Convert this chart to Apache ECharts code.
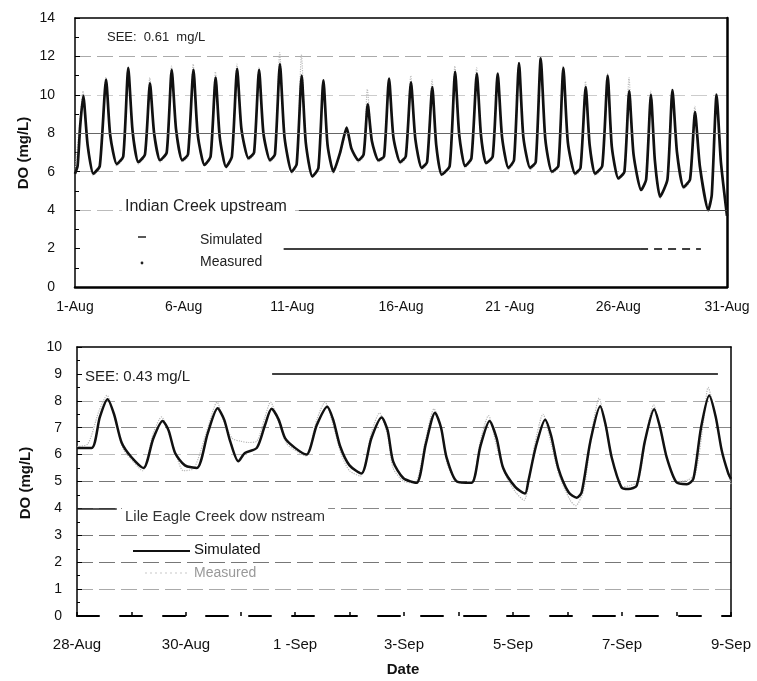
<!DOCTYPE html>
<html>
<head>
<meta charset="utf-8">
<script src="https://cdn.jsdelivr.net/npm/echarts@6/dist/echarts.min.js"></script>
<style>
  html, body { margin: 0; padding: 0; background: #fff; }
  #chart { width: 757px; height: 681px; }
</style>
</head>
<body>
<div id="chart"></div>
<script>
// Dissolved oxygen, Indian Creek upstream (days after 1-Aug 00:00) and
// Lile Eagle Creek downstream (days after 28-Aug 00:00).

const topTickLabels = ['1-Aug', '6-Aug', '11-Aug', '16-Aug', '21 -Aug', '26-Aug', '31-Aug'];
const bottomTickLabels = ['28-Aug', '30-Aug', '1 -Sep', '3-Sep', '5-Sep', '7-Sep', '9-Sep'];

// [day, DO mg/L]
const upstreamSimulated = [
  [0.00,5.9],[0.12,6.3],[0.24,8.4],
  [0.38,9.95],[0.58,7.4],[0.84,5.9],[1.14,6.3],
  [1.43,10.8],[1.62,7.9],[1.92,6.4],[2.22,6.8],
  [2.45,11.4],[2.65,8.1],[2.91,6.5],[3.22,6.9],
  [3.45,10.6],[3.64,8.0],[3.91,6.6],[4.22,7.0],
  [4.45,11.3],[4.65,8.2],[4.93,6.6],[5.20,6.9],
  [5.45,11.3],[5.65,7.9],[5.96,6.35],[6.24,6.8],
  [6.47,10.9],[6.66,7.8],[6.95,6.25],[7.22,6.8],
  [7.46,11.35],[7.66,8.2],[7.98,6.7],[8.24,7.0],
  [8.47,11.3],[8.67,8.0],[8.97,6.6],[9.20,6.9],
  [9.43,11.6],[9.64,7.8],[9.97,6.0],[10.20,6.4],
  [10.43,11.0],[10.62,7.5],[10.92,5.75],[11.20,6.2],
  [11.43,10.75],[11.62,7.4],[11.89,6.0],[12.20,7.0],
  [12.50,8.3],[12.72,7.2],[13.04,6.6],[13.28,6.9],
  [13.47,9.5],[13.66,7.6],[13.96,6.6],[14.22,6.8],
  [14.45,10.85],[14.65,7.8],[14.96,6.5],[15.22,6.8],
  [15.46,10.65],[15.66,7.7],[15.95,6.2],[16.20,6.5],
  [16.44,10.4],[16.62,7.4],[16.87,5.85],[17.24,6.3],
  [17.49,11.2],[17.68,7.9],[17.95,6.3],[18.24,6.7],
  [18.49,11.1],[18.68,7.9],[18.91,6.45],[19.22,6.8],
  [19.45,11.1],[19.65,7.8],[19.94,6.2],[20.20,6.6],
  [20.43,11.65],[20.63,7.8],[20.94,6.2],[21.20,6.5],
  [21.43,11.9],[21.64,7.7],[21.94,6.0],[22.24,6.3],
  [22.47,11.4],[22.68,7.5],[23.01,5.9],[23.26,6.2],
  [23.50,10.4],[23.68,7.4],[23.93,5.9],[24.26,6.3],
  [24.51,11.0],[24.70,7.3],[25.00,5.65],[25.28,6.0],
  [25.50,10.2],[25.70,6.9],[26.05,5.05],[26.28,5.6],
  [26.50,10.0],[26.68,6.6],[26.92,4.7],[27.26,5.6],
  [27.49,10.25],[27.70,7.0],[28.00,5.2],[28.30,5.6],
  [28.53,9.1],[28.75,6.3],[29.14,4.0],[29.30,4.8],
  [29.52,10.0],[29.72,6.5],[30.00,3.7]
];

const upstreamMeasured = [
  [0.00,6.0],[0.22,8.6],
  [0.37,10.2],[0.58,7.6],[0.84,5.8],[1.14,6.2],
  [1.42,10.9],[1.62,8.0],[1.92,6.3],[2.22,6.7],
  [2.44,11.3],[2.65,8.3],[2.91,6.4],[3.22,6.8],
  [3.44,10.9],[3.64,8.1],[3.91,6.5],[4.22,6.9],
  [4.44,11.5],[4.65,8.3],[4.93,6.5],[5.20,6.8],
  [5.44,11.6],[5.65,8.0],[5.96,6.3],[6.24,6.7],
  [6.46,11.2],[6.66,7.9],[6.95,6.2],[7.22,6.7],
  [7.45,11.6],[7.66,8.3],[7.98,6.6],[8.24,6.9],
  [8.46,11.4],[8.67,8.1],[8.97,6.5],[9.20,6.8],
  [9.42,12.2],[9.64,7.9],[9.97,5.9],[10.20,6.3],
  [10.42,12.1],[10.62,7.6],[10.92,5.7],[11.20,6.1],
  [11.42,10.8],[11.62,7.5],[11.89,5.9],[12.20,6.9],
  [12.48,8.0],[12.72,7.3],[13.04,6.5],[13.28,6.8],
  [13.45,10.3],[13.66,7.7],[13.96,6.5],[14.22,6.7],
  [14.44,10.6],[14.65,7.9],[14.96,6.4],[15.22,6.7],
  [15.45,11.0],[15.66,7.8],[15.95,6.1],[16.20,6.4],
  [16.43,10.8],[16.62,7.5],[16.87,5.8],[17.24,6.2],
  [17.48,11.5],[17.68,8.0],[17.95,6.2],[18.24,6.6],
  [18.48,11.4],[18.68,8.0],[18.91,6.4],[19.22,6.7],
  [19.44,11.1],[19.65,7.9],[19.94,6.1],[20.20,6.5],
  [20.42,11.7],[20.63,7.9],[20.94,6.1],[21.20,6.4],
  [21.42,12.0],[21.64,7.8],[21.94,5.9],[22.24,6.2],
  [22.46,11.5],[22.68,7.6],[23.01,5.8],[23.26,6.1],
  [23.49,10.7],[23.68,7.5],[23.93,5.8],[24.26,6.2],
  [24.50,11.1],[24.70,7.4],[25.00,5.6],[25.28,5.9],
  [25.49,10.9],[25.70,7.0],[26.05,5.0],[26.28,5.5],
  [26.49,10.2],[26.68,6.7],[26.92,4.6],[27.26,5.5],
  [27.48,10.3],[27.70,7.1],[28.00,5.1],[28.30,5.5],
  [28.52,9.4],[28.75,6.4],[29.10,4.2],[29.30,4.7],
  [29.51,10.1],[29.72,6.6],[30.00,3.8]
];

const downstreamSimulated = [
  [0.00,6.25],[0.27,6.25],[0.42,7.4],[0.56,8.06],[0.68,7.5],[0.82,6.44],[1.00,5.9],
  [1.22,5.5],[1.40,6.6],[1.57,7.25],[1.68,6.9],[1.80,6.06],[1.98,5.6],
  [2.20,5.5],[2.40,6.8],[2.58,7.72],[2.70,7.3],[2.81,6.5],[2.96,5.75],
  [3.08,6.06],[3.30,6.25],[3.45,7.1],[3.57,7.7],[3.70,7.3],[3.82,6.6],[4.00,6.25],
  [4.21,6.0],[4.40,7.1],[4.59,7.78],[4.70,7.3],[4.83,6.3],[5.00,5.6],
  [5.22,5.3],[5.40,6.6],[5.59,7.38],[5.70,6.9],[5.80,5.75],[5.99,5.12],
  [6.23,4.95],[6.40,6.4],[6.57,7.56],[6.68,7.0],[6.78,5.9],[6.97,5.0],
  [7.24,4.95],[7.40,6.3],[7.57,7.25],[7.70,6.6],[7.82,5.5],[8.04,4.8],
  [8.22,4.55],[8.28,5.0],[8.42,6.3],[8.59,7.3],[8.70,6.7],[8.83,5.5],[9.02,4.6],
  [9.17,4.4],[9.26,4.6],[9.42,6.5],[9.60,7.8],[9.70,7.1],[9.81,5.9],[9.99,4.78],
  [10.12,4.72],[10.27,4.85],[10.42,6.5],[10.59,7.69],[10.70,7.0],[10.82,5.9],[11.00,4.97],
  [11.19,4.9],[11.31,5.1],[11.45,7.0],[11.60,8.2],[11.72,7.4],[11.83,6.15],[11.95,5.3],[12.00,5.1]
];

const downstreamMeasured = [
  [0.00,6.3],[0.20,6.4],[0.40,7.6],[0.55,8.2],[0.70,7.3],[0.85,6.2],[1.05,5.7],
  [1.20,5.4],[1.40,6.8],[1.55,7.4],[1.70,6.7],[1.85,5.8],[1.95,5.4],
  [2.15,5.5],[2.40,7.0],[2.57,7.95],[2.70,7.2],[2.85,6.6],[3.00,6.5],
  [3.15,6.45],[3.30,6.5],[3.45,7.4],[3.55,7.95],[3.70,7.2],[3.85,6.4],[4.05,6.1],
  [4.20,5.95],[4.40,7.3],[4.55,7.95],[4.70,7.1],[4.85,6.0],[5.00,5.4],
  [5.20,5.2],[5.40,6.8],[5.55,7.55],[5.70,6.7],[5.80,5.5],[6.00,5.0],
  [6.20,4.95],[6.40,6.6],[6.55,7.7],[6.70,6.8],[6.80,5.6],[7.00,4.95],
  [7.25,5.0],[7.40,6.5],[7.55,7.45],[7.70,6.3],[7.85,5.3],[8.05,4.6],
  [8.20,4.3],[8.40,6.4],[8.55,7.5],[8.70,6.4],[8.85,5.2],[9.05,4.3],
  [9.15,4.1],[9.30,4.7],[9.45,6.9],[9.58,8.1],[9.70,7.0],[9.85,5.6],[10.00,4.8],
  [10.15,4.85],[10.30,5.0],[10.45,6.8],[10.58,7.85],[10.70,6.9],[10.85,5.7],[11.00,5.0],
  [11.20,5.05],[11.35,5.3],[11.50,7.3],[11.58,8.5],[11.70,7.6],[11.85,6.0],[12.00,4.9]
];

const FONT = 'Liberation Sans, Arial, sans-serif';
const chart = echarts.init(document.getElementById('chart'), null, { renderer: 'canvas' });

const gridLineDash = [16, 6];
const hidden = { show: false };

// plain frame axis (top or right edge of a panel)
function frameAxis(gridIndex, position, min, max, width) {
  return {
    type: 'value', gridIndex, position, min, max,
    axisLine: { show: true, onZero: false, lineStyle: { color: '#000', width } },
    axisTick: hidden, axisLabel: hidden, splitLine: hidden
  };
}

chart.setOption({
  backgroundColor: '#fff',
  animation: false,
  grid: [
    { left: 75, right: 30, top: 18, bottom: 394, outerBoundsMode: 'none' },
    { left: 77, right: 26, top: 347, bottom: 65, outerBoundsMode: 'none' }
  ],
  xAxis: [
    {
      type: 'value', gridIndex: 0, min: 0, max: 30, interval: 5,
      axisLine: { show: true, onZero: false, lineStyle: { color: '#000', width: 2.5 } },
      axisTick: hidden,
      splitLine: hidden,
      axisLabel: {
        margin: 13, color: '#111', fontSize: 14, fontFamily: FONT,
        formatter: v => topTickLabels[Math.round(v / 5)]
      }
    },
    {
      type: 'value', gridIndex: 1, min: 0, max: 12, interval: 2,
      axisLine: { show: true, onZero: false, lineStyle: { color: '#000', width: 2, type: [22, 21] } },
      axisTick: { show: true, inside: true, length: 4, lineStyle: { color: '#000', width: 1.5 } },
      minorTick: { show: true, splitNumber: 2, length: 4, lineStyle: { color: '#000', width: 1.5 } },
      splitLine: hidden,
      axisLabel: {
        margin: 21, color: '#111', fontSize: 15, fontFamily: FONT,
        formatter: v => bottomTickLabels[Math.round(v / 2)]
      }
    },
    frameAxis(0, 'top', 0, 30, 1.5),
    frameAxis(1, 'top', 0, 12, 1.5)
  ],
  yAxis: [
    {
      type: 'value', gridIndex: 0, min: 0, max: 14, interval: 2,
      axisLine: { show: true, lineStyle: { color: '#000', width: 1.5 } },
      axisTick: { show: true, inside: true, length: 5, lineStyle: { color: '#000' } },
      minorTick: { show: true, splitNumber: 2, length: 4, lineStyle: { color: '#000' } },
      splitLine: {
        show: true,
        lineStyle: {
          color: ['rgba(0,0,0,0)', 'rgba(0,0,0,0)', '#bbb', '#aaa', '#777', '#ccc', '#aaa', 'rgba(0,0,0,0)'],
          width: 1, type: gridLineDash
        }
      },
      axisLabel: { margin: 20, color: '#111', fontSize: 14, fontFamily: FONT }
    },
    {
      type: 'value', gridIndex: 1, min: 0, max: 10, interval: 1,
      axisLine: { show: true, lineStyle: { color: '#000', width: 1.5 } },
      axisTick: { show: true, inside: true, length: 5, lineStyle: { color: '#000' } },
      minorTick: { show: true, splitNumber: 2, length: 3, lineStyle: { color: '#000' } },
      splitLine: {
        show: true,
        lineStyle: {
          color: ['rgba(0,0,0,0)', '#aaa', '#777', '#777', '#888', '#777', '#bbb', '#888', '#aaa', 'rgba(0,0,0,0)', 'rgba(0,0,0,0)'],
          width: 1, type: gridLineDash
        }
      },
      axisLabel: { margin: 15, color: '#111', fontSize: 14, fontFamily: FONT }
    },
    frameAxis(0, 'right', 0, 14, 2.5),
    frameAxis(1, 'right', 0, 10, 1.5)
  ],
  series: [
    {
      name: 'Measured', type: 'line', xAxisIndex: 0, yAxisIndex: 0,
      data: upstreamMeasured, showSymbol: false, silent: true, z: 2,
      smooth: 0.2,
      lineStyle: { color: '#bdbdbd', width: 1.2, type: 'dotted' },
      markLine: {
        silent: true, symbol: 'none', label: { show: false },
        data: [
          [{ coord: [0, 8], lineStyle: { color: '#666', width: 1, type: 'solid' } }, { coord: [30, 8] }],
          [{ coord: [9.6, 2], lineStyle: { color: '#000', width: 1.5, type: 'solid' } }, { coord: [26.0, 2] }],
          [{ coord: [26.0, 2], lineStyle: { color: '#000', width: 1.5, type: [8, 6] } }, { coord: [28.8, 2] }],
          [{ coord: [10.3, 4], lineStyle: { color: '#444', width: 1.2, type: 'solid' } }, { coord: [30, 4] }]
        ]
      }
    },
    {
      name: 'Simulated', type: 'line', xAxisIndex: 0, yAxisIndex: 0,
      data: upstreamSimulated, showSymbol: false, silent: true, z: 3,
      smooth: 0.2,
      lineStyle: { color: '#111', width: 2.7, join: 'round' }
    },
    {
      name: 'Measured', type: 'line', xAxisIndex: 1, yAxisIndex: 1,
      data: downstreamMeasured, showSymbol: false, silent: true, z: 2,
      smooth: 0.25,
      lineStyle: { color: '#b5b5b5', width: 1.2, type: 'dotted' },
      markLine: {
        silent: true, symbol: 'none', label: { show: false },
        data: [
          [{ coord: [3.58, 9], lineStyle: { color: '#000', width: 1.5, type: 'solid' } }, { coord: [11.76, 9] }],
          [{ coord: [0, 4], lineStyle: { color: '#222', width: 1.5, type: 'solid' } }, { coord: [0.73, 4] }]
        ]
      }
    },
    {
      name: 'Simulated', type: 'line', xAxisIndex: 1, yAxisIndex: 1,
      data: downstreamSimulated, showSymbol: false, silent: true, z: 3,
      smooth: 0.25,
      lineStyle: { color: '#111', width: 2.5 }
    }
  ],
  graphic: [
    // axis titles
    { type: 'text', x: 24, y: 153, rotation: Math.PI / 2, z: 10,
      style: { text: 'DO (mg/L)', align: 'center', verticalAlign: 'middle', font: 'bold 15px ' + FONT, fill: '#111' } },
    { type: 'text', x: 26, y: 483, rotation: Math.PI / 2, z: 10,
      style: { text: 'DO (mg/L)', align: 'center', verticalAlign: 'middle', font: 'bold 15px ' + FONT, fill: '#111' } },
    { type: 'text', x: 403, y: 670, z: 10,
      style: { text: 'Date', align: 'center', verticalAlign: 'middle', font: 'bold 15px ' + FONT, fill: '#111' } },

    // upstream panel annotations
    { type: 'text', x: 107, y: 37, z: 10,
      style: { text: 'SEE:  0.61  mg/L', align: 'left', verticalAlign: 'middle', font: '13px ' + FONT, fill: '#222' } },
    { type: 'text', x: 122, y: 207, z: 10,
      style: { text: 'Indian Creek upstream', align: 'left', verticalAlign: 'middle', font: '16px ' + FONT, fill: '#222',
               backgroundColor: '#fff', padding: [2, 3] } },
    { type: 'line', z: 10, shape: { x1: 138, y1: 237, x2: 146, y2: 237 }, style: { stroke: '#222', lineWidth: 1.5 } },
    { type: 'circle', z: 10, shape: { cx: 142, cy: 263, r: 1.4 }, style: { fill: '#222' } },
    { type: 'text', x: 200, y: 240, z: 10,
      style: { text: 'Simulated', align: 'left', verticalAlign: 'middle', font: '14px ' + FONT, fill: '#222' } },
    { type: 'text', x: 200, y: 262, z: 10,
      style: { text: 'Measured', align: 'left', verticalAlign: 'middle', font: '14px ' + FONT, fill: '#222' } },

    // downstream panel annotations
    { type: 'text', x: 85, y: 377, z: 10,
      style: { text: 'SEE: 0.43 mg/L', align: 'left', verticalAlign: 'middle', font: '15px ' + FONT, fill: '#222' } },
    { type: 'text', x: 122, y: 517, z: 10,
      style: { text: 'Lile Eagle Creek dow nstream', align: 'left', verticalAlign: 'middle', font: '15px ' + FONT, fill: '#333',
               backgroundColor: '#fff', padding: [2, 3] } },
    { type: 'line', z: 10, shape: { x1: 133, y1: 551, x2: 190, y2: 551 }, style: { stroke: '#111', lineWidth: 2 } },
    { type: 'text', x: 192, y: 550, z: 10,
      style: { text: 'Simulated', align: 'left', verticalAlign: 'middle', font: '15px ' + FONT, fill: '#111',
               backgroundColor: '#fff', padding: [1, 2] } },
    { type: 'line', z: 10, shape: { x1: 145, y1: 573, x2: 188, y2: 573 }, style: { stroke: '#c8c8c8', lineWidth: 1.2, lineDash: [2, 3] } },
    { type: 'text', x: 192, y: 573, z: 10,
      style: { text: 'Measured', align: 'left', verticalAlign: 'middle', font: '14px ' + FONT, fill: '#999',
               backgroundColor: '#fff', padding: [1, 2] } }
  ]
});
</script>
</body>
</html>
